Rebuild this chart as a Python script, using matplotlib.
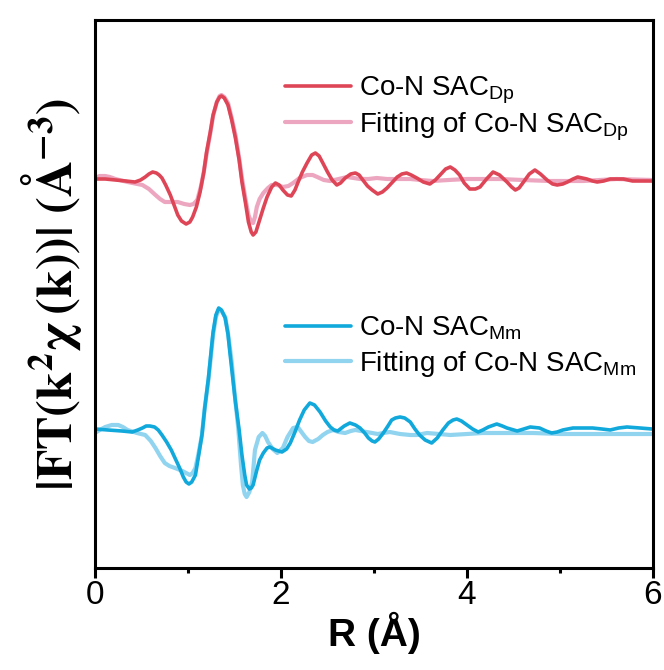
import numpy as np
import matplotlib
matplotlib.use("Agg")
import matplotlib.pyplot as plt

plt.rcParams['font.family'] = ['Liberation Sans', 'DejaVu Sans']
plt.rcParams['mathtext.fontset'] = 'custom'
plt.rcParams['mathtext.rm'] = 'Liberation Sans'
plt.rcParams['mathtext.it'] = 'Liberation Sans:italic'
plt.rcParams['mathtext.bf'] = 'Liberation Sans:bold'

# Co-N SAC_Dp, 实验数据 (R, 相对强度)
r_dp = [0.00, 0.11, 0.22, 0.33, 0.43, 0.49, 0.54, 0.58, 0.62, 0.66, 0.69, 0.72, 0.76, 0.81,
        0.85, 0.89, 0.93, 0.98, 1.02, 1.05, 1.09, 1.13, 1.17, 1.20, 1.24, 1.27, 1.31, 1.34,
        1.36, 1.39, 1.43, 1.47, 1.51, 1.55, 1.58, 1.62, 1.65, 1.68, 1.70, 1.73, 1.77, 1.81,
        1.85, 1.90, 1.94, 1.98, 2.02, 2.07, 2.11, 2.15, 2.18, 2.23, 2.28, 2.33, 2.37, 2.41,
        2.45, 2.50, 2.55, 2.60, 2.64, 2.69, 2.75, 2.80, 2.84, 2.88, 2.93, 2.98, 3.04, 3.09,
        3.14, 3.20, 3.25, 3.30, 3.35, 3.40, 3.46, 3.53, 3.60, 3.66, 3.71, 3.77, 3.82, 3.87,
        3.92, 3.97, 4.03, 4.09, 4.14, 4.21, 4.28, 4.35, 4.43, 4.48, 4.52, 4.56, 4.60, 4.67,
        4.73, 4.79, 4.86, 4.92, 4.97, 5.03, 5.08, 5.14, 5.19, 5.24, 5.29, 5.35, 5.40, 5.47,
        5.54, 5.61, 5.68, 5.78, 5.88, 5.99]
ft_dp = [0.01, 0.01, 0.00, -0.01, -0.02, 0.00, 0.03, 0.06, 0.08, 0.07, 0.05, 0.02, -0.05, -0.15,
         -0.25, -0.35, -0.41, -0.44, -0.42, -0.37, -0.27, -0.12, 0.08, 0.28, 0.48, 0.65, 0.78, 0.83,
         0.84, 0.82, 0.75, 0.60, 0.42, 0.20, -0.02, -0.24, -0.42, -0.52, -0.55, -0.52, -0.40, -0.28,
         -0.17, -0.07, -0.03, -0.05, -0.10, -0.15, -0.16, -0.10, -0.03, 0.08, 0.17, 0.25, 0.27, 0.24,
         0.17, 0.08, 0.00, -0.05, -0.03, 0.02, 0.06, 0.07, 0.05, 0.00, -0.06, -0.10, -0.14, -0.12,
         -0.08, -0.02, 0.03, 0.06, 0.07, 0.05, 0.02, -0.02, -0.04, 0.00, 0.05, 0.11, 0.13, 0.10,
         0.05, -0.03, -0.09, -0.09, -0.07, 0.01, 0.08, 0.05, -0.02, -0.07, -0.10, -0.08, -0.03, 0.06,
         0.10, 0.06, 0.00, -0.04, -0.05, -0.04, -0.02, 0.01, 0.03, 0.02, 0.01, -0.01, -0.02, -0.01,
         0.01, 0.01, 0.01, -0.01, -0.01, -0.01]

# Co-N SAC_Dp 拟合
r_dp_fit = [0.00, 0.05, 0.11, 0.16, 0.22, 0.35, 0.51, 0.58, 0.65, 0.70, 0.75, 0.82, 0.89, 0.96,
            1.02, 1.06, 1.10, 1.14, 1.17, 1.20, 1.24, 1.27, 1.31, 1.34, 1.36, 1.39, 1.43, 1.47,
            1.51, 1.55, 1.58, 1.62, 1.65, 1.68, 1.70, 1.72, 1.74, 1.77, 1.81, 1.86, 1.90, 1.96,
            2.02, 2.08, 2.13, 2.20, 2.28, 2.34, 2.39, 2.46, 2.53, 2.62, 2.71, 2.78, 2.85, 2.94,
            3.03, 3.14, 3.25, 3.39, 3.50, 3.63, 3.80, 4.00, 4.35, 4.60, 4.89, 5.25, 5.61, 5.99]
ft_dp_fit = [0.02, 0.04, 0.04, 0.03, 0.01, -0.02, -0.05, -0.09, -0.15, -0.19, -0.22, -0.22, -0.22, -0.24,
             -0.25, -0.24, -0.20, -0.06, 0.08, 0.26, 0.47, 0.64, 0.78, 0.84, 0.85, 0.83, 0.77, 0.62,
             0.45, 0.22, 0.02, -0.20, -0.35, -0.42, -0.43, -0.37, -0.27, -0.19, -0.13, -0.08, -0.05, -0.05,
             -0.07, -0.06, -0.03, 0.02, 0.05, 0.05, 0.03, 0.00, -0.01, 0.01, 0.03, 0.02, 0.01, 0.01,
             0.02, 0.01, 0.01, 0.01, 0.00, -0.01, 0.00, 0.01, 0.01, 0.00, -0.01, -0.01, 0.01, 0.00]

# Co-N SAC_Mm, 实验数据
r_mm = [0.00, 0.14, 0.29, 0.40, 0.46, 0.51, 0.55, 0.59, 0.64, 0.68, 0.72, 0.77, 0.82, 0.86,
        0.91, 0.95, 0.98, 1.01, 1.04, 1.08, 1.11, 1.15, 1.18, 1.22, 1.25, 1.27, 1.30, 1.33,
        1.36, 1.40, 1.43, 1.45, 1.48, 1.51, 1.55, 1.58, 1.61, 1.63, 1.66, 1.68, 1.70, 1.74,
        1.77, 1.81, 1.85, 1.88, 1.94, 2.01, 2.06, 2.10, 2.15, 2.20, 2.25, 2.31, 2.36, 2.42,
        2.48, 2.53, 2.57, 2.61, 2.68, 2.74, 2.80, 2.85, 2.90, 2.94, 2.98, 3.01, 3.05, 3.10,
        3.15, 3.19, 3.23, 3.28, 3.33, 3.39, 3.44, 3.49, 3.55, 3.62, 3.68, 3.74, 3.80, 3.85,
        3.89, 3.94, 4.00, 4.06, 4.12, 4.17, 4.23, 4.32, 4.38, 4.43, 4.54, 4.61, 4.68, 4.78,
        4.85, 4.91, 4.97, 5.03, 5.14, 5.25, 5.35, 5.45, 5.54, 5.63, 5.72, 5.86, 5.99]
ft_mm = [0.01, 0.00, -0.01, -0.02, 0.00, 0.02, 0.04, 0.04, 0.03, 0.00, -0.05, -0.12, -0.20, -0.28,
         -0.38, -0.47, -0.52, -0.54, -0.52, -0.45, -0.28, -0.05, 0.22, 0.52, 0.80, 0.98, 1.15, 1.22,
         1.20, 1.12, 0.96, 0.78, 0.53, 0.28, 0.00, -0.25, -0.45, -0.55, -0.59, -0.58, -0.55, -0.40,
         -0.30, -0.23, -0.18, -0.17, -0.20, -0.22, -0.19, -0.13, -0.02, 0.10, 0.20, 0.27, 0.25, 0.18,
         0.09, 0.03, 0.00, -0.01, 0.04, 0.07, 0.05, 0.02, -0.03, -0.08, -0.11, -0.12, -0.09, -0.03,
         0.04, 0.10, 0.12, 0.13, 0.12, 0.08, 0.01, -0.05, -0.10, -0.13, -0.08, 0.00, 0.07, 0.10,
         0.11, 0.09, 0.05, 0.01, -0.02, 0.00, 0.03, 0.06, 0.04, 0.02, -0.01, 0.01, 0.03, 0.02,
         -0.01, -0.03, -0.02, 0.00, 0.02, 0.02, 0.02, 0.01, 0.00, 0.02, 0.03, 0.02, 0.01]

# Co-N SAC_Mm 拟合
r_mm_fit = [0.00, 0.05, 0.11, 0.18, 0.25, 0.30, 0.35, 0.45, 0.54, 0.60, 0.65, 0.70, 0.75, 0.80,
            0.86, 0.94, 1.02, 1.05, 1.08, 1.11, 1.15, 1.18, 1.22, 1.25, 1.27, 1.30, 1.33, 1.36,
            1.40, 1.43, 1.47, 1.50, 1.54, 1.57, 1.59, 1.61, 1.63, 1.66, 1.69, 1.72, 1.76, 1.80,
            1.83, 1.86, 1.91, 1.96, 2.02, 2.07, 2.13, 2.18, 2.22, 2.26, 2.30, 2.34, 2.40, 2.45,
            2.50, 2.56, 2.62, 2.69, 2.75, 2.80, 2.86, 2.92, 3.04, 3.10, 3.17, 3.28, 3.39, 3.46,
            3.57, 3.70, 3.82, 4.00, 4.17, 4.45, 4.71, 5.00, 5.25, 5.60, 5.99]
ft_mm_fit = [-0.03, 0.00, 0.03, 0.05, 0.05, 0.03, 0.00, -0.03, -0.05, -0.11, -0.18, -0.26, -0.33, -0.36,
             -0.38, -0.41, -0.45, -0.43, -0.38, -0.25, -0.05, 0.22, 0.50, 0.77, 0.95, 1.13, 1.20, 1.19,
             1.13, 0.97, 0.68, 0.38, 0.02, -0.35, -0.55, -0.64, -0.67, -0.62, -0.52, -0.20, -0.07, -0.03,
             -0.06, -0.12, -0.19, -0.23, -0.18, -0.07, 0.02, 0.03, -0.02, -0.07, -0.11, -0.12, -0.09, -0.05,
             -0.02, 0.00, -0.02, -0.03, -0.01, 0.00, -0.01, -0.02, -0.04, -0.03, -0.02, -0.04, -0.05, -0.05,
             -0.03, -0.04, -0.05, -0.04, -0.03, -0.03, -0.03, -0.04, -0.04, -0.04, -0.04]

# 曲线竖直偏移
offset_dp = 3.88
offset_mm = 1.38

c_dp, c_dp_fit = '#DE4657', '#EDA6BF'
c_mm, c_mm_fit = '#11A8DC', '#90D4F0'

fig = plt.figure(figsize=(6.64, 6.70), dpi=100)
ax = fig.add_axes([95 / 664, 102 / 670, 558 / 664, 548 / 670])

kw = dict(solid_joinstyle='round', solid_capstyle='round')
l2, = ax.plot(r_dp_fit, np.array(ft_dp_fit) + offset_dp, color=c_dp_fit, lw=3.0,
              label='Fitting of Co-N SAC$_{\\rm Dp}$', **kw)
l1, = ax.plot(r_dp, np.array(ft_dp) + offset_dp, color=c_dp, lw=2.6,
              label='Co-N SAC$_{\\rm Dp}$', **kw)
l4, = ax.plot(r_mm_fit, np.array(ft_mm_fit) + offset_mm, color=c_mm_fit, lw=3.0,
              label='Fitting of Co-N SAC$_{\\rm Mm}$', **kw)
l3, = ax.plot(r_mm, np.array(ft_mm) + offset_mm, color=c_mm, lw=2.6,
              label='Co-N SAC$_{\\rm Mm}$', **kw)

ax.set_xlim(0, 6)
ax.set_ylim(0, 5.48)
ax.set_xticks([0, 2, 4, 6])
ax.set_xticks([1, 3, 5], minor=True)
ax.set_yticks([])
ax.tick_params(axis='x', which='major', direction='out', length=7, width=2.2, labelsize=24, pad=2)
ax.tick_params(axis='x', which='minor', direction='out', length=3.5, width=2.2)
for s in ax.spines.values():
    s.set_linewidth(2.2)

ax.set_xlabel('R (Å)', fontsize=28, fontweight='bold', labelpad=0)
ax.set_ylabel(r'$\mathbf{|FT(k^{2}\chi\,(k))|\ (\AA^{-3})}$', fontsize=36,
              math_fontfamily='stix', labelpad=8)

leg_kw = dict(frameon=False, fontsize=20, handlelength=2.4, handletextpad=0.27,
              borderpad=0, borderaxespad=0, loc='upper left')
leg1 = ax.legend(handles=[l1, l2], bbox_to_anchor=(0.34, 0.9), labelspacing=0.15, **leg_kw)
ax.add_artist(leg1)
ax.legend(handles=[l3, l4], bbox_to_anchor=(0.34, 0.463), labelspacing=0.25, **leg_kw)

fig.savefig('out.png', dpi=100)
